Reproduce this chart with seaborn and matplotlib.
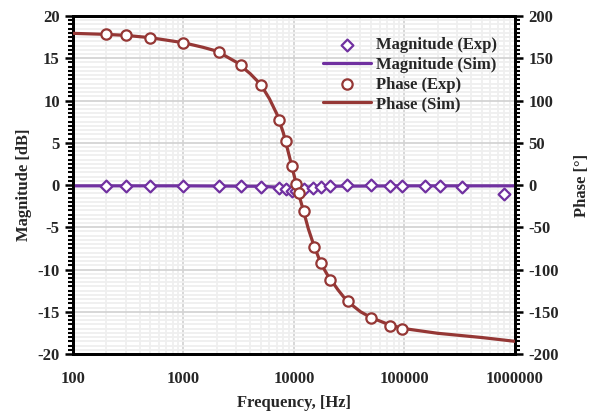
import numpy as np
import pandas as pd
import matplotlib
matplotlib.use("Agg")
import matplotlib.pyplot as plt
import matplotlib.ticker as mticker
import seaborn as sns

# -----------------------------
# DATA
# -----------------------------
mag_freq_exp = [200, 300, 500, 1000, 2100, 3300, 5000, 7300, 8400, 9600, 10500,
                12300, 15000, 17500, 21000, 30500, 50000, 74000, 95000,
                152000, 210000, 333000, 795000]
mag_exp = [-0.1, -0.1, -0.1, -0.1, -0.1, -0.15, -0.2, -0.35, -0.45, -0.65, -0.7,
           -0.45, -0.4, -0.2, -0.1, -0.05, -0.05, -0.1, -0.1,
           -0.1, -0.1, -0.2, -1.1]

mag_freq_sim = [100, 1000, 5000, 8000, 10000, 12000, 20000, 100000, 1000000]
mag_sim = [-0.1, -0.1, -0.15, -0.3, -0.4, -0.3, -0.15, -0.1, -0.1]

ph_freq_exp = [200, 300, 500, 1000, 2100, 3300, 5000, 7300, 8400, 9600, 10500,
               11000, 12200, 15300, 17500, 21300, 30600, 50000, 74400, 95500]
ph_exp = [178.3, 177.1, 174.4, 168.4, 157.4, 142.4, 118.3, 76.9, 52.4, 22.8, 1.5,
          -10.0, -30.8, -73.8, -92.7, -112.4, -137.7, -157.0, -166.5, -170.4]

ph_freq_sim = [100, 200, 300, 500, 1000, 1500, 2000, 3000, 4000, 5000, 6000, 7000,
               8000, 9000, 10000, 11000, 12200, 13500, 15000, 17500, 20000, 25000,
               30000, 40000, 50000, 75000, 100000, 200000, 500000, 1000000]
ph_sim = [179.5, 178.3, 177.1, 174.4, 168.4, 163.0, 158.5, 145.5, 132.0, 119.0,
          102.0, 84.0, 62.0, 36.0, 12.0, -10.0, -30.8, -52.0, -70.0, -92.7,
          -106.0, -124.0, -137.0, -150.0, -157.0, -166.0, -170.0, -175.5,
          -180.5, -185.0]

purple = "#7030A0"
brown = "#953735"

# -----------------------------
# STYLE
# -----------------------------
sns.set_style("white")
plt.rcParams["font.family"] = ["Liberation Serif", "DejaVu Serif"]
plt.rcParams["font.weight"] = "bold"
plt.rcParams["axes.labelweight"] = "bold"
plt.rcParams["axes.unicode_minus"] = False

fig = plt.figure(figsize=(5.96, 4.11), dpi=100)
ax = fig.add_axes([0.1225, 0.1387, 0.7415, 0.8223])
ax2 = ax.twinx()

# -----------------------------
# MAGNITUDE
# -----------------------------
sns.lineplot(x=mag_freq_sim, y=mag_sim, ax=ax, color=purple, lw=2.3,
             sort=False, estimator=None, label="Magnitude (Sim)", zorder=3)
sns.scatterplot(x=mag_freq_exp, y=mag_exp, ax=ax, marker="D", s=36,
                facecolor="white", edgecolor=purple, linewidth=1.6,
                label="Magnitude (Exp)", zorder=4)

# -----------------------------
# PHASE
# -----------------------------
sns.lineplot(x=ph_freq_sim, y=ph_sim, ax=ax2, color=brown, lw=2.3,
             sort=False, estimator=None, label="Phase (Sim)", zorder=3)
sns.scatterplot(x=ph_freq_exp, y=ph_exp, ax=ax2, marker="o", s=55,
                facecolor="white", edgecolor=brown, linewidth=1.6,
                label="Phase (Exp)", zorder=4)

# -----------------------------
# AXES
# -----------------------------
ax.set_xscale("log")
ax.set_xlim(100, 1000000)
ax.set_ylim(-20, 20)
ax2.set_ylim(-200, 200)

ax.xaxis.set_major_locator(mticker.LogLocator(base=10, numticks=10))
ax.xaxis.set_minor_locator(mticker.LogLocator(base=10, subs=np.arange(2, 10), numticks=20))
ax.xaxis.set_major_formatter(mticker.FuncFormatter(lambda v, p: "%d" % v))
ax.xaxis.set_minor_formatter(mticker.NullFormatter())

ax.yaxis.set_major_locator(mticker.MultipleLocator(5))
ax.yaxis.set_minor_locator(mticker.MultipleLocator(0.5))
ax2.yaxis.set_major_locator(mticker.MultipleLocator(50))
ax2.yaxis.set_minor_locator(mticker.MultipleLocator(5))

ax.grid(which="minor", color="#efefef", lw=1.3)
ax.grid(which="major", color="#d4d4d4", lw=1.3)
ax.set_axisbelow(True)

for a in (ax, ax2):
    for s in a.spines.values():
        s.set_color("black")
        s.set_linewidth(2.0)
    a.tick_params(axis="both", which="major", labelsize=12, length=6, width=1.8,
                  color="black")
    a.tick_params(axis="both", which="minor", length=3.5, width=1.5, color="black")

ax.tick_params(axis="x", which="major", direction="inout", length=8, pad=8)
ax.tick_params(axis="x", which="minor", direction="out", length=3)
ax.tick_params(axis="y", which="both", direction="out", left=True)
ax2.tick_params(axis="y", which="both", direction="out", right=True)

for lab in ax.get_xticklabels() + ax.get_yticklabels() + ax2.get_yticklabels():
    lab.set_fontweight("bold")

ax.set_xlabel("Frequency, [Hz]", fontsize=12, fontweight="bold", labelpad=6)
ax.set_ylabel("Magnitude [dB]", fontsize=12, fontweight="bold", labelpad=4)
ax2.set_ylabel("Phase [°]", fontsize=12, fontweight="bold", labelpad=11)

# -----------------------------
# LEGEND
# -----------------------------
h1, l1 = ax.get_legend_handles_labels()
h2, l2 = ax2.get_legend_handles_labels()
if ax.get_legend() is not None:
    ax.get_legend().remove()
handles = dict(zip(l1 + l2, h1 + h2))
order = ["Magnitude (Exp)", "Magnitude (Sim)", "Phase (Exp)", "Phase (Sim)"]
ax2.legend([handles[k] for k in order], order, loc="upper right",
           bbox_to_anchor=(0.978, 0.962), frameon=False, borderpad=0,
           prop={"size": 12, "weight": "bold"}, handlelength=2.9,
           handletextpad=0.3, labelspacing=0.22)

fig.savefig("out.png", dpi=100)
